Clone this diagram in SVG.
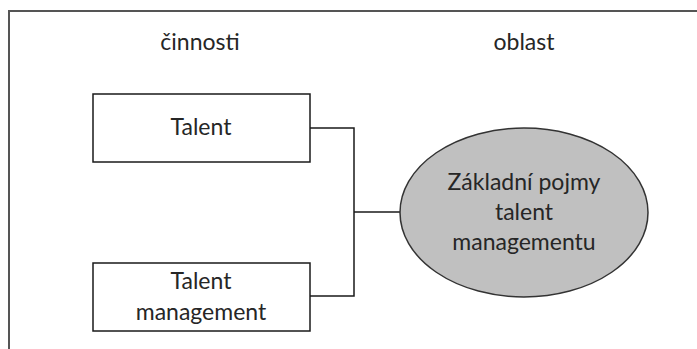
<svg xmlns="http://www.w3.org/2000/svg" width="697" height="349" viewBox="0 0 697 349">
  <style>
    .lbl { font-family: Lato, "Liberation Sans", sans-serif; font-size: 23px; fill: #262626; text-anchor: middle; }
    .box { fill: #ffffff; stroke: #1a1a1a; stroke-width: 1.5; }
    .wire { fill: none; stroke: #1a1a1a; stroke-width: 1.5; }
  </style>
  <rect width="697" height="349" fill="#ffffff"/>
  <!-- outer frame: top and left edges -->
  <path d="M9 349 V11 H697" fill="none" stroke="#555555" stroke-width="2"/>

  <!-- column headers -->
  <text class="lbl" x="200" y="50">činnosti</text>
  <text class="lbl" x="524" y="50">oblast</text>

  <g id="connectors">
    <path class="wire" d="M310 128 H354 V296 H310"/>
    <path class="wire" d="M354 212 H400"/>
  </g>

  <g id="talent">
    <rect class="box" x="93" y="94" width="217" height="68"/>
    <text class="lbl" x="201" y="135">Talent</text>
  </g>

  <g id="talent-management">
    <rect class="box" x="93" y="263" width="217" height="68"/>
    <text class="lbl" x="201" y="289">Talent</text>
    <text class="lbl" x="201" y="320">management</text>
  </g>

  <g id="zakladni-pojmy">
    <ellipse cx="524" cy="212.5" rx="124" ry="84.5" fill="#c0c0c0" stroke="#333333" stroke-width="1.5"/>
    <text class="lbl" x="524" y="190">Základní pojmy</text>
    <text class="lbl" x="524" y="220">talent</text>
    <text class="lbl" x="524" y="250">managementu</text>
  </g>
</svg>
